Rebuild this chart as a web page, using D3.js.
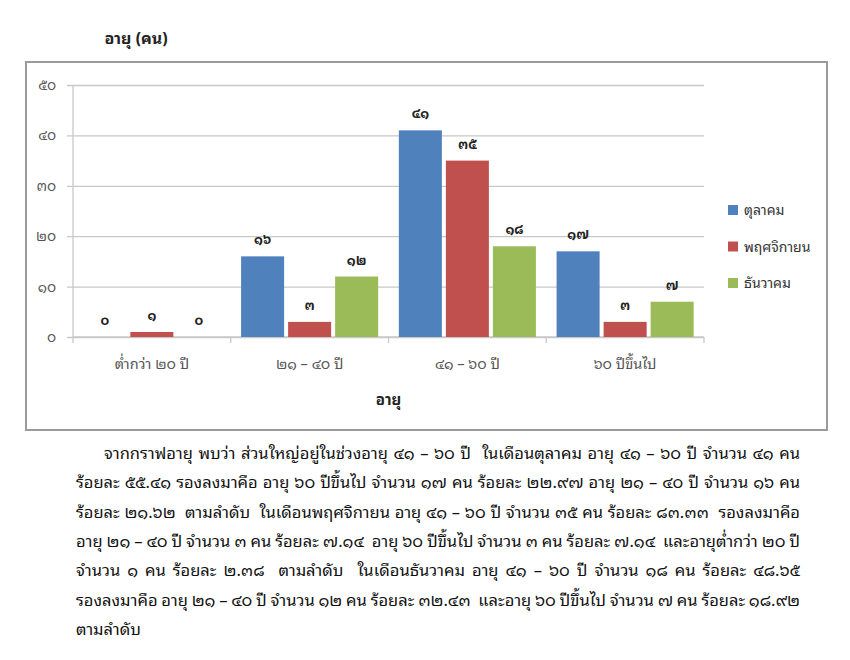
<!DOCTYPE html>
<html>
<head>
<meta charset="utf-8">
<script src="https://cdn.jsdelivr.net/npm/d3@7"></script>
<style>
  body { margin: 0; background: #fff; }
  svg text { font-family: Tahoma, "Noto Sans Thai Looped", "Noto Sans Thai", "Noto Sans", sans-serif; }
</style>
</head>
<body>
<svg id="chart" width="850" height="660"></svg>
<script>
// chart data
var categories = ["ต่ำกว่า ๒๐ ปี", "๒๑ – ๔๐ ปี", "๔๑ – ๖๐ ปี", "๖๐ ปีขึ้นไป"];
var seriesNames = ["ตุลาคม", "พฤศจิกายน", "ธันวาคม"];
var octValues = [0, 16, 41, 17];
var novValues = [1, 3, 35, 3];
var decValues = [0, 12, 18, 7];
var yTicks = [0, 10, 20, 30, 40, 50];
var colors = ["#4F81BD", "#C0504D", "#9BBB59"];

var paragraph = [
  "จากกราฟอายุ พบว่า ส่วนใหญ่อยู่ในช่วงอายุ ๔๑ – ๖๐ ปี  ในเดือนตุลาคม อายุ ๔๑ – ๖๐ ปี จำนวน ๔๑ คน",
  "ร้อยละ ๕๕.๔๑ รองลงมาคือ อายุ ๖๐ ปีขึ้นไป จำนวน ๑๗ คน ร้อยละ ๒๒.๙๗ อายุ ๒๑ – ๔๐ ปี จำนวน ๑๖ คน",
  "ร้อยละ ๒๑.๖๒  ตามลำดับ  ในเดือนพฤศจิกายน อายุ ๔๑ – ๖๐ ปี จำนวน ๓๕ คน ร้อยละ ๘๓.๓๓  รองลงมาคือ",
  "อายุ ๒๑ – ๔๐ ปี จำนวน ๓ คน ร้อยละ ๗.๑๔  อายุ ๖๐ ปีขึ้นไป จำนวน ๓ คน ร้อยละ ๗.๑๔  และอายุต่ำกว่า ๒๐ ปี",
  "จำนวน ๑ คน ร้อยละ ๒.๓๘  ตามลำดับ  ในเดือนธันวาคม อายุ ๔๑ – ๖๐ ปี จำนวน ๑๘ คน ร้อยละ ๔๘.๖๕",
  "รองลงมาคือ อายุ ๒๑ – ๔๐ ปี จำนวน ๑๒ คน ร้อยละ ๓๒.๔๓  และอายุ ๖๐ ปีขึ้นไป จำนวน ๗ คน ร้อยละ ๑๘.๙๒",
  "ตามลำดับ"
];

var series = [octValues, novValues, decValues];

// arabic -> thai digits
function thaiNum(n) {
  return String(n).replace(/[0-9]/g, function(c) {
    return String.fromCharCode(0x0E50 + (+c));
  });
}

var dims = {
  frame: { x: 26, y: 62, width: 801, height: 368 },
  plot: { left: 73, right: 704, top: 85, bottom: 337 }
};

var svg = d3.select("#chart");

// outer frame
svg.append("rect")
  .attr("x", dims.frame.x)
  .attr("y", dims.frame.y)
  .attr("width", dims.frame.width)
  .attr("height", dims.frame.height)
  .attr("fill", "#fff")
  .attr("stroke", "#9a9a9a")
  .attr("stroke-width", 2);

// title
svg.append("text")
  .attr("x", 136)
  .attr("y", 44)
  .attr("text-anchor", "middle")
  .attr("font-size", 16)
  .attr("font-weight", "bold")
  .attr("fill", "#222")
  .text("อายุ (คน)");

var x0 = d3.scaleBand()
  .domain(categories)
  .range([dims.plot.left, dims.plot.right]);

var x1 = d3.scaleBand()
  .domain(d3.range(seriesNames.length))
  .range([0, x0.bandwidth()])
  .paddingInner(0.085)
  .paddingOuter(0.22);

var y = d3.scaleLinear()
  .domain([0, 50])
  .range([dims.plot.bottom, dims.plot.top]);

// gridlines + y axis
var yAxis = d3.axisLeft(y)
  .tickValues(yTicks)
  .tickSize(-(dims.plot.right - dims.plot.left))
  .tickPadding(17)
  .tickFormat(thaiNum);

var yg = svg.append("g")
  .attr("transform", "translate(" + dims.plot.left + ",0)")
  .call(yAxis);
yg.select(".domain").remove();
yg.selectAll(".tick line")
  .attr("x1", -6)
  .attr("stroke", "#c8c8c8")
  .attr("stroke-width", 1.3);
yg.selectAll(".tick text")
  .attr("font-size", 14)
  .attr("fill", "#555");

// y axis line
svg.append("line")
  .attr("x1", dims.plot.left)
  .attr("x2", dims.plot.left)
  .attr("y1", dims.plot.top)
  .attr("y2", dims.plot.bottom)
  .attr("stroke", "#c8c8c8")
  .attr("stroke-width", 1.3);

// x axis
var xAxis = d3.axisBottom(x0).tickSize(0).tickPadding(22);
var xg = svg.append("g")
  .attr("transform", "translate(0," + dims.plot.bottom + ")")
  .call(xAxis);
xg.select(".domain")
  .attr("stroke", "#c8c8c8")
  .attr("stroke-width", 1.3)
  .attr("d", "M" + dims.plot.left + ",0H" + dims.plot.right);
xg.selectAll(".tick text")
  .attr("font-size", 14.5)
  .attr("fill", "#555");

// category boundary ticks
xg.selectAll("line.sep")
  .data(categories.map(function(c) { return x0(c); }).concat([dims.plot.right]))
  .enter()
  .append("line")
  .attr("class", "sep")
  .attr("x1", function(d) { return d; })
  .attr("x2", function(d) { return d; })
  .attr("y1", 0)
  .attr("y2", 6)
  .attr("stroke", "#c8c8c8")
  .attr("stroke-width", 1.3);

// bars
var groups = svg.selectAll("g.cat")
  .data(categories)
  .enter()
  .append("g")
  .attr("class", "cat")
  .attr("transform", function(c) { return "translate(" + x0(c) + ",0)"; });

groups.selectAll("rect")
  .data(function(c, ci) {
    return series.map(function(s, si) { return { si: si, v: s[ci] }; });
  })
  .enter()
  .append("rect")
  .attr("x", function(d) { return x1(d.si); })
  .attr("y", function(d) { return y(d.v); })
  .attr("width", x1.bandwidth())
  .attr("height", function(d) { return y(0) - y(d.v); })
  .attr("fill", function(d) { return colors[d.si]; });

// data labels
groups.selectAll("text.lbl")
  .data(function(c, ci) {
    return series.map(function(s, si) { return { si: si, v: s[ci] }; });
  })
  .enter()
  .append("text")
  .attr("class", "lbl")
  .attr("x", function(d) { return x1(d.si) + x1.bandwidth() / 2; })
  .attr("y", function(d) { return y(d.v) - 12; })
  .attr("text-anchor", "middle")
  .attr("font-size", 13)
  .attr("font-weight", "bold")
  .attr("fill", "#222")
  .text(function(d) { return thaiNum(d.v); });

// x axis title
svg.append("text")
  .attr("x", (dims.plot.left + dims.plot.right) / 2)
  .attr("y", 405)
  .attr("text-anchor", "middle")
  .attr("font-size", 15)
  .attr("font-weight", "bold")
  .attr("fill", "#222")
  .text("อายุ");

// legend
var legend = svg.selectAll("g.legend")
  .data(seriesNames)
  .enter()
  .append("g")
  .attr("class", "legend")
  .attr("transform", function(d, i) { return "translate(728," + (205 + i * 36.5) + ")"; });

legend.append("rect")
  .attr("width", 10)
  .attr("height", 10)
  .attr("fill", function(d, i) { return colors[i]; });

legend.append("text")
  .attr("x", 16)
  .attr("y", 10)
  .attr("font-size", 14)
  .attr("fill", "#333")
  .text(function(d) { return d; });

// paragraph below the chart, justified line by line
var para = svg.append("g").attr("class", "para");
paragraph.forEach(function(line, i) {
  var left = i === 0 ? 104 : 76;
  var t = para.append("text")
    .attr("x", left)
    .attr("y", 459 + i * 29.3)
    .attr("font-size", 16.5)
    .attr("fill", "#111")
    .style("white-space", "pre")
    .text(line);
  if (i < paragraph.length - 1) {
    var w = t.node().getComputedTextLength();
    var spaces = (line.match(/ /g) || []).length;
    var extra = (800 - left - w) / spaces;
    t.attr("word-spacing", extra);
  }
});
</script>
</body>
</html>
